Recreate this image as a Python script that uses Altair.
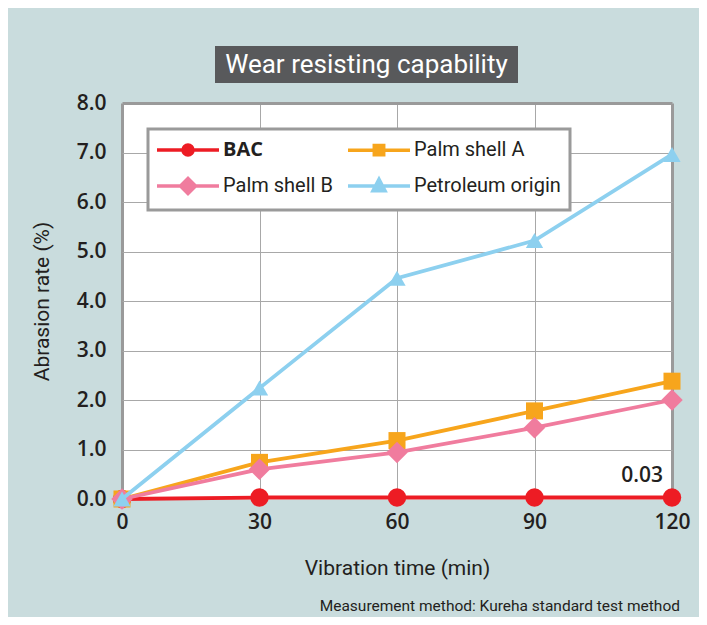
import altair as alt
import pandas as pd

# ---------------- data ----------------
times = [0, 30, 60, 90, 120]
series_names = ["BAC", "Palm shell A", "Palm shell B", "Petroleum origin"]
bac = [0.0, 0.03, 0.03, 0.03, 0.03]
palm_a = [0.0, 0.74, 1.18, 1.78, 2.38]
palm_b = [0.0, 0.60, 0.94, 1.44, 2.00]
petroleum = [0.0, 2.24, 4.46, 5.22, 6.96]
y_ticks = [0, 1, 2, 3, 4, 5, 6, 7, 8]
x_ticks = [0, 30, 60, 90, 120]
title_text = "Wear resisting capability"
x_title = "Vibration time (min)"
y_title = "Abrasion rate (%)"
annotation_text = "0.03"
footnote_text = "Measurement method: Kureha standard test method"

# ---------------- styles ----------------
colors = ["#ed1c24", "#f7a51c", "#f07c9e", "#8dd0ef"]
shapes = ["circle", "square", "diamond", "triangle-up"]
sizes = [340, 290, 460, 300]
# legend symbols: unit = 10 px (symbolSize 400); line from x=-1.2 to 5.0, marker centred at 1.9
legend_markers = [
    "M1.4,0A0.5,0.5,0,1,0,2.4,0A0.5,0.5,0,1,0,1.4,0Z",
    "M1.43,-0.47H2.37V0.47H1.43Z",
    "M1.9,-0.75L2.65,0L1.9,0.75L1.15,0Z",
    "M1.9,-0.68L2.5,0.48L1.3,0.48Z",
]
legend_paths = ["M-1.2,0H5.0 " + p for p in legend_markers]
NARROW = "Roboto, Liberation Sans, sans-serif"
BOLD = "Open Sans, Lato, sans-serif"
TEXT = "#231f20"
PANEL = "#c9dcdd"
GRID = "#a8a8a8"
FRAME = "#9a9a9a"

rows = []
for name, vals in zip(series_names, [bac, palm_a, palm_b, petroleum]):
    for t, v in zip(times, vals):
        rows.append({"time": t, "rate": v, "series": name})
df = pd.DataFrame(rows)

ann_df = pd.DataFrame({"time": [times[-1]], "rate": [bac[-1]], "label": [annotation_text]})
title_df = pd.DataFrame({"t": [title_text]})
foot_df = pd.DataFrame({"t": [footnote_text]})

legend = alt.Legend(
    title=None,
    orient="none",
    direction="horizontal",
    legendX=26,
    legendY=26,
    columns=2,
    columnPadding=8,
    rowPadding=9,
    padding=9,
    fillColor="white",
    strokeColor=FRAME,
    symbolSize=400,
    symbolStrokeWidth=3.5,
    symbolOpacity=1,
    labelFont={"expr": f"datum.value === 'BAC' ? '{BOLD}' : '{NARROW}'"},
    labelFontWeight={"expr": "datum.value === 'BAC' ? 'bold' : 'normal'"},
    labelFontSize=20,
    labelColor=TEXT,
    labelOffset=42,
    labelLimit=400,
)

x_axis = alt.Axis(
    values=x_ticks,
    format="d",
    labelFont=BOLD,
    labelFontSize=21,
    labelFontWeight=600,
    labelColor=TEXT,
    labelPadding=12,
    labelFlush=False,
    ticks=False,
    tickSize=0,
    domain=False,
    grid=True,
    gridColor={"condition": {"test": "datum.value === 0 || datum.value === 120", "value": FRAME}, "value": GRID},
    gridWidth={"condition": {"test": "datum.value === 0 || datum.value === 120", "value": 3}, "value": 1},
    title=x_title,
    titleFont=NARROW,
    titleFontSize=21,
    titleFontWeight="normal",
    titleColor=TEXT,
    titleX=275,
    titleY=69,
    titleBaseline="middle",
)

y_axis = alt.Axis(
    values=y_ticks,
    format=".1f",
    labelFont=BOLD,
    labelFontSize=21,
    labelFontWeight=600,
    labelColor=TEXT,
    labelPadding=16,
    labelFlush=False,
    ticks=False,
    tickSize=0,
    domain=False,
    grid=True,
    gridColor={"condition": {"test": "datum.value === 8", "value": FRAME}, "value": GRID},
    gridWidth={"condition": {"test": "datum.value === 8", "value": 3}, "value": 1},
    gridOpacity={"condition": {"test": "datum.value === 0", "value": 0}, "value": 1},
    title=y_title,
    titleFont=NARROW,
    titleFontSize=21,
    titleFontWeight="normal",
    titleColor=TEXT,
    titleAngle=270,
    titleX=-80,
    titleY=198,
    titleBaseline="middle",
    titleAlign="center",
)

x_enc = alt.X("time:Q", scale=alt.Scale(domain=[0, 120], nice=False, zero=False), axis=x_axis)
y_enc = alt.Y("rate:Q", scale=alt.Scale(domain=[0, 8], nice=False), axis=y_axis)

# one line + point layer per series, drawn in legend order
series_layers = []
for i, (name, col, shp, sz) in enumerate(zip(series_names, colors, shapes, sizes)):
    sub = alt.Chart(df).transform_filter(alt.datum.series == name)
    if i == 0:
        ln = sub.mark_line(strokeWidth=3.8, color=col).encode(x=x_enc, y=y_enc)
    else:
        ln = sub.mark_line(strokeWidth=3.8, color=col).encode(x="time:Q", y="rate:Q")
    pt = sub.mark_point(filled=True, opacity=1, shape=shp, size=sz, color=col).encode(x="time:Q", y="rate:Q")
    series_layers += [ln, pt]

# legend-only layer (no rows pass the filter): line + marker symbols
legend_layer = (
    alt.Chart(df)
    .transform_filter(alt.datum.time < 0)
    .mark_point(filled=True, strokeWidth=3.5)
    .encode(
        x="time:Q",
        y="rate:Q",
        fill=alt.Fill("series:N", scale=alt.Scale(domain=series_names, range=colors), legend=legend),
        stroke=alt.Stroke("series:N", scale=alt.Scale(domain=series_names, range=colors), legend=legend),
        shape=alt.Shape("series:N", scale=alt.Scale(domain=series_names, range=legend_paths), legend=legend),
    )
)

ann = alt.Chart(ann_df).mark_text(
    align="right", baseline="middle", dx=-9, dy=-22,
    font=BOLD, fontSize=21, fontWeight=600, color=TEXT,
).encode(x="time:Q", y="rate:Q", text="label:N")

title_box = alt.Chart(title_df).mark_rect(color="#58595b").encode(
    x=alt.value(93), x2=alt.value(396), y=alt.value(-57), y2=alt.value(-20)
)
title_txt = alt.Chart(title_df).mark_text(
    font=NARROW, fontSize=26, color="white", align="center", baseline="middle"
).encode(x=alt.value(244.5), y=alt.value(-38), text="t:N")

foot = alt.Chart(foot_df).mark_text(
    font=NARROW, fontSize=15.5, color=TEXT, align="right", baseline="middle"
).encode(x=alt.value(558), y=alt.value(503), text="t:N")

chart = alt.layer(*series_layers, legend_layer, ann, title_box, title_txt, foot).properties(
    width=550,
    height=396,
    autosize=alt.AutoSizeParams(type="none"),
    padding={"left": 114, "top": 95, "right": 27, "bottom": 118},
    background=PANEL,
).configure_view(fill="white", stroke="transparent").configure_legend(strokeWidth=3)

chart.save("out.html", embed_options={"renderer": "svg", "actions": False})
